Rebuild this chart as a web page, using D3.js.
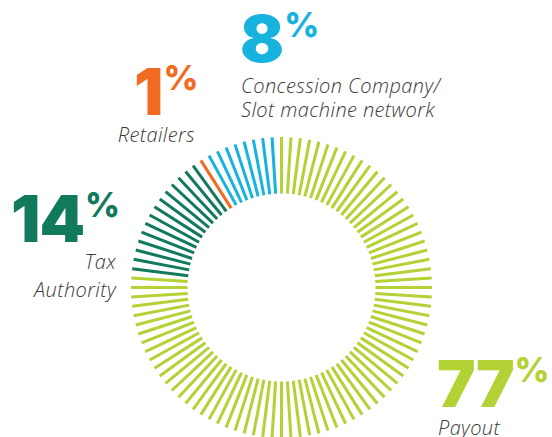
<!DOCTYPE html>
<html>
<head>
<meta charset="utf-8">
<script src="https://cdn.jsdelivr.net/npm/d3@7"></script>
<style>
  html, body { margin: 0; padding: 0; background: #fff; }
  svg { display: block; }
</style>
</head>
<body>
<div id="viz"></div>
<script>
// shares of each euro staked, in percent, in tick order (clockwise from 12 o'clock)
var categories = ["Payout", "Tax Authority", "Retailers", "Concession Company/Slot machine network"];
var shares = [77, 14, 1, 8];
var valueLabels = ["77", "14", "1", "8"];
var labelLines = [["Payout"], ["Tax", "Authority"], ["Retailers"], ["Concession Company/", "Slot machine network"]];
var colors = ["#b3d236", "#117a5d", "#f26b22", "#17b2de"];

var Viz = (function(){
	var width = 552, height = 437;
	var cx = 281.5, cy = 287.5, rInner = 94, rOuter = 150.5;
	var numFont = "Inter, 'Noto Sans', sans-serif";
	var labelFont = "'Open Sans', 'Noto Sans', sans-serif";
	var labelColor = "#3a3a3a";

	// where each annotation sits: number (left x, baseline) and label lines
	var annot = [
		{nx: 437, ny: 407, lx: 438, ly: [435], anchor: "start"},
		{nx: 11, ny: 242, lx: 116, ly: [269, 297], anchor: "end"},
		{nx: 134, ny: 115, lx: 195, ly: [142], anchor: "end"},
		{nx: 240, ny: 62, lx: 241, ly: [93, 117], anchor: "start"}
	];

	var svg;

	var drawTicks = function(){
		var total = d3.sum(shares);
		var ticks = [];
		shares.forEach(function(v, k){
			for(var i=0;i<v;i++){
				ticks.push({cat: k});
			}
		});
		var angle = d3.scaleLinear().domain([0, total]).range([0, 2*Math.PI]);
		var g = svg.append("g").attr("transform", "translate(" + cx + "," + cy + ")");
		g.selectAll(".tick")
			.data(ticks)
			.enter()
			.append("line")
			.attr("class", "tick")
			.attr("x1", function(d,i){ return rInner*Math.sin(angle(i)); })
			.attr("y1", function(d,i){ return -rInner*Math.cos(angle(i)); })
			.attr("x2", function(d,i){ return rOuter*Math.sin(angle(i)); })
			.attr("y2", function(d,i){ return -rOuter*Math.cos(angle(i)); })
			.style("stroke", function(d){ return colors[d.cat]; })
			.style("stroke-width", 3);
	}

	var drawLabels = function(){
		annot.forEach(function(a, k){
			var num = svg.append("text")
				.attr("x", a.nx)
				.attr("y", a.ny)
				.style("font-family", numFont)
				.style("font-weight", 900)
				.style("font-size", "65px")
				.style("letter-spacing", "-1px")
				.style("fill", colors[k])
				.text(valueLabels[k]);
			var w = num.node().getComputedTextLength();
			svg.append("text")
				.attr("x", a.nx + w + 1)
				.attr("y", a.ny - 25)
				.style("font-family", numFont)
				.style("font-weight", 800)
				.style("font-size", "34px")
				.style("fill", colors[k])
				.text("%");
			labelLines[k].forEach(function(line, j){
				svg.append("text")
					.attr("x", a.lx)
					.attr("y", a.ly[j])
					.attr("text-anchor", a.anchor)
					.style("font-family", labelFont)
					.style("font-style", "italic")
					.style("font-weight", 300)
					.style("font-size", "20px")
					.style("letter-spacing", "0.4px")
					.style("fill", labelColor)
					.text(line);
			});
		});
	}

	var setup = function(){
		svg = d3.select("#viz").append("svg")
			.attr("width", width)
			.attr("height", height);
	}

	return {
		setup: setup,
		draw: function(){ drawTicks(); drawLabels(); }
	}
})();

Viz.setup();
Viz.draw();
</script>
</body>
</html>
